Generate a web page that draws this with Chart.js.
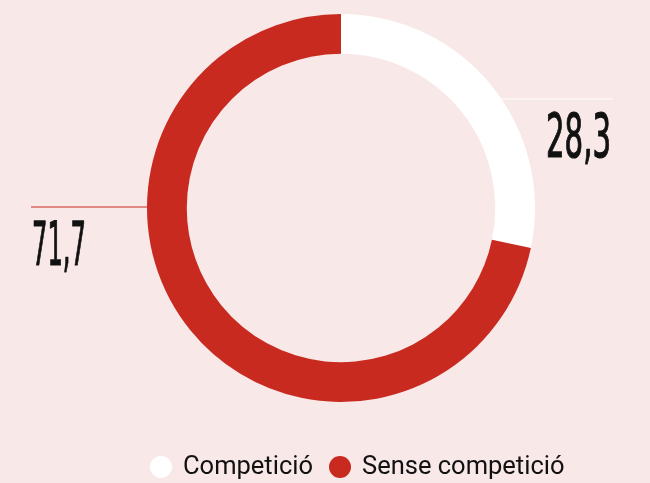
<!DOCTYPE html>
<html>
<head>
<meta charset="utf-8">
<script src="https://cdn.jsdelivr.net/npm/chart.js@4/dist/chart.umd.min.js"></script>
<style>
  html, body { margin: 0; padding: 0; background: #f9e8e8; }
  #wrap { width: 650px; height: 483px; position: relative; }
</style>
</head>
<body>
<div id="wrap"><canvas id="donut" width="650" height="483"></canvas></div>
<script>
const labels = ["Competició", "Sense competició"];
const values = [28.3, 71.7];
const valueLabels = ["28,3", "71,7"];
const colors = ["#ffffff", "#c92a20"];

function drawNarrow(ctx, text, x, y, width) {
  const w = ctx.measureText(text).width;
  ctx.save();
  ctx.translate(x, y);
  ctx.scale(width / w, 1);
  ctx.lineWidth = 1.2;
  ctx.lineJoin = "round";
  ctx.strokeStyle = ctx.fillStyle;
  ctx.strokeText(text, 0, 0);
  ctx.fillText(text, 0, 0);
  ctx.restore();
}

// value labels with leader lines, plus the legend underneath
const annotatePlugin = {
  id: "annotate",
  afterDatasetsDraw(chart) {
    const ctx = chart.ctx;
    const arc = chart.getDatasetMeta(0).data[0];
    const cx = arc.x, cy = arc.y, r = arc.outerRadius;

    ctx.save();
    // right label (Competició)
    let y = cy - 109;
    let x0 = cx + Math.sqrt(r * r - 109 * 109);
    ctx.strokeStyle = "#ffffff";
    ctx.lineWidth = 1.2;
    ctx.beginPath();
    ctx.moveTo(x0, y);
    ctx.lineTo(613, y);
    ctx.stroke();

    // left label (Sense competició)
    y = cy - 1;
    ctx.strokeStyle = "#c92a20";
    ctx.beginPath();
    ctx.moveTo(31, y);
    ctx.lineTo(cx - r + 2, y);
    ctx.stroke();

    ctx.fillStyle = "#111111";
    ctx.font = "60px 'DejaVu Sans Condensed', 'DejaVu Sans'";
    ctx.textBaseline = "alphabetic";
    drawNarrow(ctx, valueLabels[0], 546, cy - 51, 65);
    drawNarrow(ctx, valueLabels[1], 32, cy + 57, 54);

    // legend
    const legendX = [161, 340];
    const legendY = 467;
    ctx.font = "25.5px Roboto";
    ctx.textBaseline = "middle";
    labels.forEach((lab, i) => {
      ctx.fillStyle = colors[i];
      ctx.beginPath();
      ctx.arc(legendX[i], legendY, 11, 0, Math.PI * 2);
      ctx.fill();
      ctx.fillStyle = "#111111";
      ctx.fillText(lab, legendX[i] + 22, legendY + 1);
    });
    ctx.restore();
  }
};

new Chart(document.getElementById("donut"), {
  type: "doughnut",
  data: {
    labels: labels,
    datasets: [
      {
        data: values,
        backgroundColor: colors,
        borderWidth: 0,
      },
    ],
  },
  options: {
    responsive: false,
    animation: false,
    cutout: "79.5%",
    layout: {
      padding: { top: 14, bottom: 81, left: 147, right: 115 },
    },
    plugins: {
      tooltip: { enabled: false },
      legend: { display: false },
    },
  },
  plugins: [annotatePlugin],
});
</script>
</body>
</html>
